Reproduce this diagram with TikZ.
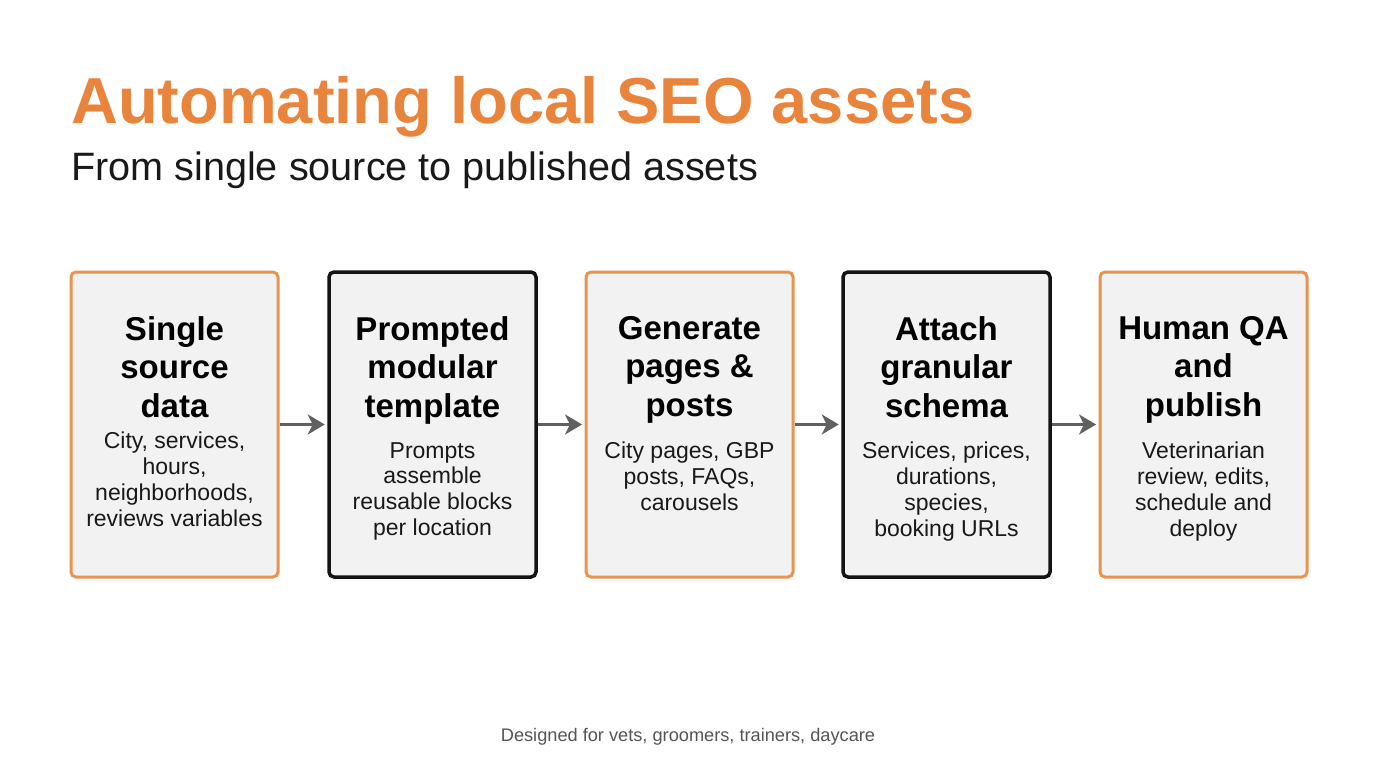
\documentclass[tikz,border=0pt]{standalone}
\usepackage{fontspec}
\setmainfont{Liberation Sans}
\usetikzlibrary{arrows.meta}
\definecolor{titleor}{HTML}{E8843C}
\definecolor{boxor}{HTML}{E8944F}
\definecolor{boxfill}{HTML}{F2F2F2}
\definecolor{boxblk}{HTML}{141414}
\definecolor{arrgray}{HTML}{606060}
\definecolor{footgray}{HTML}{555555}
\tikzset{
  stagebox/.style={minimum width=207pt, minimum height=305pt, rounded corners=5pt, fill=boxfill, line width=3pt, inner sep=0pt},
  orbox/.style={stagebox, draw=boxor},
  blkbox/.style={stagebox, draw=boxblk, line width=3.5pt},
  head/.style={anchor=north, align=center, font=\fontsize{33}{38.5}\selectfont\bfseries, text=black, inner sep=0pt},
  body/.style={anchor=north, align=center, font=\fontsize{23}{25.8}\selectfont, text=black!90, inner sep=0pt},
  flow/.style={draw=arrgray, line width=3.5pt, -{Stealth[length=17pt,width=20pt,inset=5pt]}, shorten >=2.5pt}
}
\begin{document}
\begin{tikzpicture}[x=1pt,y=-1pt]
\useasboundingbox[fill=white] (0,0) rectangle (1376,768);
\node[anchor=base west, inner sep=0pt, text=titleor, font=\fontsize{65}{70}\selectfont\bfseries] (title) at (71,123) {Automating local SEO assets};
\node[anchor=base west, inner sep=0pt, text=black!90, font=\fontsize{39.6}{44}\selectfont] (subtitle) at (71,180) {From single source to published assets};

\node[orbox] (b1) at (174.5,424.5) {};
\node[blkbox] (b2) at (432.5,424.5) {};
\node[orbox] (b3) at (689.5,424.5) {};
\node[blkbox] (b4) at (946.5,424.5) {};
\node[orbox] (b5) at (1203.5,424.5) {};

\node[head] (h1) at (174.5,316) {Single\\source\\data};
\node[head] (h2) at (432.5,316) {Prompted\\modular\\template};
\node[head] (h3) at (689.5,316) {Generate\\pages \&\\posts};
\node[head] (h4) at (946.5,316) {Attach\\granular\\schema};
\node[head] (h5) at (1203.5,316) {Human QA\\and\\publish};

\node[body] (t1) at (174.5,432) {City, services,\\hours,\\neighborhoods,\\reviews variables};
\node[body] (t2) at (432.5,442) {Prompts\\assemble\\reusable blocks\\per location};
\node[body] (t3) at (689.5,442) {City pages, GBP\\posts, FAQs,\\carousels};
\node[body] (t4) at (946.5,442) {Services, prices,\\durations,\\species,\\booking URLs};
\node[body] (t5) at (1203.5,442) {Veterinarian\\review, edits,\\schedule and\\deploy};

\draw[flow] (b1.east) -- (b2.west);
\draw[flow] (b2.east) -- (b3.west);
\draw[flow] (b3.east) -- (b4.west);
\draw[flow] (b4.east) -- (b5.west);

\node[anchor=base, inner sep=0pt, text=footgray, font=\fontsize{18.2}{20}\selectfont] (foot) at (688,741) {Designed for vets, groomers, trainers, daycare};
\end{tikzpicture}
\end{document}
